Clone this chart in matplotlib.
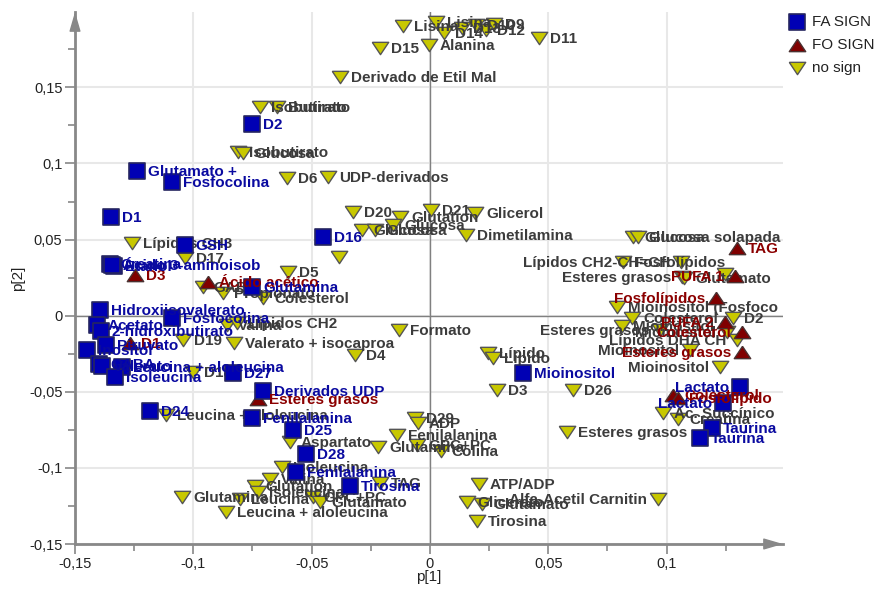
import matplotlib
matplotlib.use("Agg")
import matplotlib.pyplot as plt
from matplotlib.path import Path
from matplotlib.ticker import MultipleLocator, FuncFormatter

plt.rcParams["font.family"] = ["Liberation Sans", "DejaVu Sans"]

# FA SIGN variables
fa_names = ["D2", "Glutamato +", "Fosfocolina", "D1", "GSH", "Creatina", "Etanol",
            "Ácido 3-aminoisob", "Glutamina", "Hidroxiisovalerato", "Acetato",
            "2-hidroxibutirato", "Fosfocolina", "Piruvato", "Inositol", "GABA",
            "Valerato", "Leucina + aloleucina", "Isoleucina", "D27", "D16",
            "Mioinositol", "Lactato", "Lactato", "Taurina", "Taurina",
            "Derivados UDP", "D24", "Fenilalanina", "D25", "D28", "Tirosina",
            "Fenilalanina"]
fa_p1 = [-0.0752, -0.1239, -0.1091, -0.1348, -0.1036, -0.1353, -0.1336,
         -0.1345, -0.0752, -0.1395, -0.1408, -0.1391, -0.1091, -0.1370,
         -0.1450, -0.1399, -0.1387, -0.1302, -0.1332, -0.0833, -0.0452,
         0.0393, 0.1310, 0.1238, 0.1192, 0.1141, -0.0706, -0.1184, -0.0752,
         -0.0579, -0.0524, -0.0338, -0.0566]
fa_p2 = [0.1260, 0.0951, 0.0879, 0.0650, 0.0466, 0.0341, 0.0328, 0.0334,
         0.0190, 0.0039, -0.0059, -0.0098, -0.0013, -0.0190, -0.0223,
         -0.0315, -0.0328, -0.0335, -0.0400, -0.0374, 0.0518, -0.0374,
         -0.0466, -0.0571, -0.0735, -0.0801, -0.0492, -0.0623, -0.0669,
         -0.0748, -0.0912, -0.1122, -0.1030]

# FO SIGN variables
fo_names = ["D3", "Ácido acético", "D1", "TAG", "PUFA 1", "Fosfolípidos", "PUFA 2",
            "Colesterol", "Esteres grasos", "Colesterol", "Fosfolípido",
            "Esteres grasos"]
fo_p1 = [-0.1247, -0.0938, -0.1268, 0.1298, 0.1289, 0.1209, 0.1247, 0.1319,
         0.1319, 0.1027, 0.1048, -0.0727]
fo_p2 = [0.0269, 0.0223, -0.0177, 0.0446, 0.0262, 0.0118, -0.0039, -0.0105,
         -0.0236, -0.0518, -0.0538, -0.0545]

# variables without significance
ns_names = ["Lisina", "Lisina", "D14", "D13", "D10", "D12", "D9", "D11", "D15",
            "Alanina", "Derivado de Etil Mal", "Isobutirato", "Butirato",
            "Isobutirato", "Glucosa", "D6", "UDP-derivados", "Lípidos CH3", "D17",
            "GABA", "Propionato", "D5", "Colesterol", "", "Valina", "Lípidos CH2",
            "D19", "Valerato + isocaproa", "D18", "D4", "Formato", "Lípido",
            "Lípido", "D3", "D26", "D20", "Glutation", "D21", "Glicerol",
            "Glucosa", "Glucosa", "Glucosa", "Dimetilamina", "Glucosa",
            "Glucosa solapada", "Fosfolípidos", "Lípidos CH2-CH=CH",
            "Esteres grasos", "Glutamato", "", "Mioinositol (Fosfoco",
            "Colesterol", "Mioinositol", "Esteres grasos", "D2", "Lípidos DHA CH",
            "Mioinositol", "Mioinositol", "Mioinositol", "Ac. Succínico",
            "Creatina", "Esteres grasos", "Alfa-Acetil Carnitin",
            "Leucina + aloleucina", "Aspartato", "Glutamina", "Fenilalanina",
            "D29", "ADP", "GPC+PC", "Colina", "ATP/ADP", "Glicerato",
            "Glutamato", "Tirosina", "TAG", "GPC+PC", "Glutamato", "Isoleucina",
            "Valina", "Glutation", "Isoleucina", "Leucina", "Glutamina",
            "Leucina + aloleucina"]
ns_p1 = [-0.0114, 0.0025, 0.0059, 0.0135, 0.0194, 0.0237, 0.0271, 0.0461,
         -0.0211, -0.0004, -0.0380, -0.0719, -0.0647, -0.0812, -0.0790,
         -0.0604, -0.0431, -0.1260, -0.1036, -0.0960, -0.0875, -0.0600,
         -0.0706, -0.0385, -0.0858, -0.0816, -0.1044, -0.0829, -0.1002,
         -0.0317, -0.0131, 0.0245, 0.0266, 0.0283, 0.0604, -0.0325, -0.0127,
         0.0004, 0.0190, -0.0156, -0.0287, -0.0232, 0.0152, 0.0858, 0.0879,
         0.0816, 0.1061, 0.1065, 0.1074, 0.1247, 0.0790, 0.0854, 0.0812,
         0.0972, 0.1281, 0.1298, 0.1099, 0.1226, 0.1255, 0.0985, 0.1048,
         0.0579, 0.0964, -0.1116, -0.0592, -0.0220, -0.0139, -0.0063,
         -0.0051, -0.0055, 0.0046, 0.0207, 0.0156, 0.0220, 0.0199, -0.0211,
         -0.0495, -0.0465, -0.0626, -0.0676, -0.0740, -0.0727, -0.0803,
         -0.1048, -0.0862]
ns_p2 = [0.1903, 0.1929, 0.1857, 0.1890, 0.1910, 0.1877, 0.1916, 0.1824,
         0.1759, 0.1778, 0.1568, 0.1371, 0.1371, 0.1076, 0.1070, 0.0906,
         0.0912, 0.0479, 0.0381, 0.0190, 0.0151, 0.0289, 0.0118, 0.0387,
         -0.0059, -0.0046, -0.0157, -0.0177, -0.0367, -0.0256, -0.0092,
         -0.0243, -0.0276, -0.0486, -0.0486, 0.0682, 0.0650, 0.0696, 0.0676,
         0.0597, 0.0564, 0.0564, 0.0532, 0.0518, 0.0518, 0.0354, 0.0354,
         0.0256, 0.0249, 0.0276, 0.0059, -0.0013, -0.0066, -0.0092, -0.0013,
         -0.0157, -0.0223, -0.0335, -0.0105, -0.0637, -0.0682, -0.0761,
         -0.1207, -0.0650, -0.0827, -0.0866, -0.0781, -0.0669, -0.0702,
         -0.0847, -0.0892, -0.1109, -0.1227, -0.1240, -0.1352, -0.1096,
         -0.1188, -0.1227, -0.0991, -0.1076, -0.1122, -0.1161, -0.1207,
         -0.1194, -0.1293]

# labels that sit on the left side of their marker
left_labels = {("Lactato", 0.1310), ("Lactato", 0.1238), ("PUFA 1", 0.1289),
               ("Fosfolípidos", 0.1209), ("PUFA 2", 0.1247),
               ("Colesterol", 0.1319), ("Esteres grasos", 0.1319),
               ("Lípidos CH2-CH=CH", 0.1061), ("Esteres grasos", 0.1065),
               ("Esteres grasos", 0.0972), ("Lípidos DHA CH", 0.1298),
               ("Mioinositol", 0.1099), ("Mioinositol", 0.1226),
               ("Mioinositol", 0.1255), ("Alfa-Acetil Carnitin", 0.0964)}

tri_down = Path([(-1, 0.75), (1, 0.75), (0, -0.75), (-1, 0.75)])
tri_up = Path([(0, 0.75), (1, -0.75), (-1, -0.75), (0, 0.75)])

fig = plt.figure(figsize=(8.77, 5.89), dpi=100)
ax = fig.add_axes([75 / 877, 45 / 589, 708 / 877, 532 / 589])

ns_sc = ax.scatter(ns_p1, ns_p2, s=140, marker=tri_down, c="#c8c800",
                   edgecolors="#555555", linewidths=1, zorder=3)
fo_sc = ax.scatter(fo_p1, fo_p2, s=140, marker=tri_up, c="#800000",
                   edgecolors="#4a3030", linewidths=1, zorder=5)
fa_sc = ax.scatter(fa_p1, fa_p2, s=130, marker="s", c="#0000b4",
                   edgecolors="#262660", linewidths=1.2, zorder=5)


def put_labels(names, xs, ys, color, z):
    for name, x, y in zip(names, xs, ys):
        if not name:
            continue
        left = (name, x) in left_labels
        ax.annotate(name, (x, y), xytext=(-11 if left else 11, -1),
                    textcoords="offset pixels", ha="right" if left else "left",
                    va="center", fontsize=11, fontweight="bold", color=color,
                    zorder=z)


put_labels(ns_names, ns_p1, ns_p2, "#3c3c3c", 4)
put_labels(fo_names, fo_p1, fo_p2, "#8b0000", 6)
put_labels(fa_names, fa_p1, fa_p2, "#0a0aa0", 6)

ax.set_xlim(-0.15, 0.1492)
ax.set_ylim(-0.15, 0.1995)

ax.xaxis.set_major_locator(MultipleLocator(0.05))
ax.xaxis.set_minor_locator(MultipleLocator(0.025))
ax.yaxis.set_major_locator(MultipleLocator(0.05))
ax.yaxis.set_minor_locator(MultipleLocator(0.025))
comma = FuncFormatter(lambda v, _: f"{round(v, 3):g}".replace(".", ","))
ax.xaxis.set_major_formatter(comma)
ax.yaxis.set_major_formatter(comma)
ax.tick_params(which="both", direction="out", color="#888888", width=1.2,
               labelsize=10.5, labelcolor="#222222")
ax.tick_params(which="major", length=7, pad=2)
ax.tick_params(which="minor", length=5)

ax.grid(True, which="major", color="#e8e8e8", lw=1.5, zorder=0)
ax.set_axisbelow(True)
ax.axhline(0, color="#808080", lw=1, zorder=1)
ax.axvline(0, color="#808080", lw=1, zorder=1)

for side in ("top", "right"):
    ax.spines[side].set_visible(False)
for side in ("left", "bottom"):
    ax.spines[side].set_color("#888888")
    ax.spines[side].set_linewidth(2)

# arrow heads at the ends of the axes
arrow = dict(arrowstyle="-|>,head_length=1.2,head_width=0.35", color="#888888",
             lw=1, shrinkA=0, shrinkB=0)
ax.annotate("", xy=(0, 1), xycoords="axes fraction", xytext=(0, -20),
            textcoords="offset pixels", arrowprops=arrow, annotation_clip=False)
ax.annotate("", xy=(1, 0), xycoords="axes fraction", xytext=(-20, 0),
            textcoords="offset pixels", arrowprops=arrow, annotation_clip=False)

ax.set_xlabel("p[1]", fontsize=11, color="#222222", labelpad=0)
ax.set_ylabel("p[2]", fontsize=11, color="#222222", labelpad=3)

leg = ax.legend([fa_sc, fo_sc, ns_sc], ["FA SIGN", "FO SIGN", "no sign"],
                loc="upper left", bbox_to_anchor=(789 / 877, 1 - 15 / 589),
                bbox_transform=fig.transFigure, frameon=False, fontsize=11,
                borderpad=0, borderaxespad=0, handlelength=1.0,
                handletextpad=0.5, labelspacing=0.6, scatterpoints=1)
for t in leg.get_texts():
    t.set_color("#222222")

fig.savefig("out.png", dpi=100)
